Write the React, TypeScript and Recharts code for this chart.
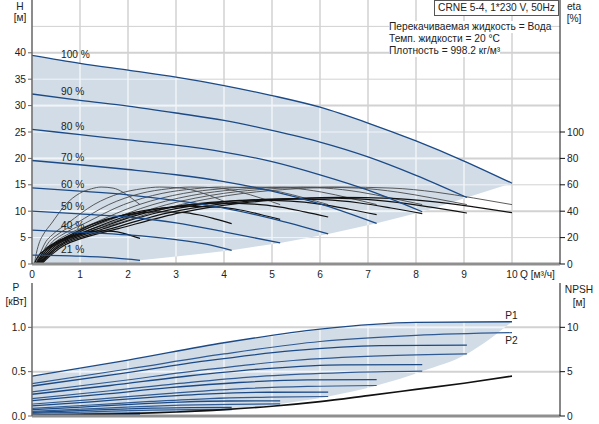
import React from "react";
import { Area, CartesianGrid, ComposedChart, Line, XAxis, YAxis } from "recharts";

// layout
const W = 599;
const TOP_H = 282;
const TOP_AXIS_H = 18;
const BOT_TOP = 283;
const BOT_H = 141;
const BOT_AXIS_H = 8;
const LEFT_W = 32;
const RIGHT_W = 39;
const Q_MAX = 11;

const FONT = '"Liberation Sans", Arial, sans-serif';
const FS = 10.2;
const SHADE = "#d1dce7";
const GRID = "#d2d2d2";
const GRID_IN = "#f2f5f8";
const CURVE = "#1b4a86";
const CURVE2 = "#2f5a93";

// axes
const qTicks = [0, 1, 2, 3, 4, 5, 6, 7, 8, 9, 10];
const qGrid = [1, 2, 3, 4, 5, 6, 7, 8, 9, 10];
const hTicks = [0, 5, 10, 15, 20, 25, 30, 35, 40];
const hGridThin = [5, 15, 25, 35, 45];
const hGridThick = [10, 20, 30, 40];
const etaTicks = [0, 20, 40, 60, 80, 100];
const pTicks = [0, 0.5, 1.0];
const npshTicks = [0, 5, 10];

// head curves, [Q m3/h, H m]
const h100 = [[0, 39.5], [1, 38.0], [2, 36.7], [3, 35.4], [4, 33.8], [5, 31.9], [6, 29.7], [7, 26.7], [8, 23.3], [9, 19.5], [10, 15.3]];
const h90 = [[0, 32.2], [1, 31.0], [2, 29.9], [3, 28.6], [4, 27.2], [5, 25.3], [6, 23.1], [7, 20.3], [8, 16.8], [9.06, 12.6]];
const h80 = [[0, 25.5], [1, 24.5], [2, 23.5], [3, 22.5], [4, 21.2], [5, 19.4], [6, 16.9], [7, 14.0], [8.13, 9.9]];
const h70 = [[0, 19.6], [1, 18.8], [2, 17.9], [3, 16.9], [4, 15.6], [5, 13.8], [6, 11.4], [7.18, 7.7]];
const h60 = [[0, 14.4], [1, 13.8], [2, 13.1], [3, 12.0], [4, 10.6], [5, 8.6], [6.17, 5.7]];
const h50 = [[0, 10.0], [1, 9.5], [2, 8.9], [3, 7.8], [4, 6.1], [5.17, 4.0]];
const h40 = [[0, 6.4], [1, 6.0], [2, 5.5], [3, 4.6], [3.6, 3.8], [4.16, 2.6]];
const h21 = [[0, 1.7], [1, 1.5], [1.7, 1.15], [2.25, 0.7]];
const headCurves = [h100, h90, h80, h70, h60, h50, h40, h21];

// operating range in the head chart, [Q, low H, high H]
const headRange = [[0, 0, 39.5], [1, 0, 38.0], [2, 0, 36.7], [2.25, 0, 36.4], [2.25, 0.7, 36.4], [3, 1.4, 35.4], [4.16, 2.6, 33.5], [5.17, 4.0, 31.6], [6.17, 5.7, 29.3], [7.18, 7.7, 26.2], [8.13, 9.9, 22.8], [9.06, 12.6, 19.3], [10, 15.3, 15.3]];

// efficiency curves, [Q, eta %]
const eA100 = [[0.2, 0], [0.4, 8], [0.7, 17], [1.0, 22], [1.8, 31], [3.1, 45], [4.4, 53.5], [5.5, 57], [6.4, 58.3], [7.5, 57.5], [8.4, 54.5], [9.2, 50], [10, 45]];
const eA90 = [[0.18, 0], [0.36, 8], [0.63, 17], [0.91, 22], [1.63, 31], [2.81, 45], [3.99, 53.5], [4.98, 57], [5.8, 58.3], [6.8, 57.5], [7.61, 54.5], [8.34, 50], [9.06, 45]];
const eA80 = [[0.16, 0], [0.33, 8], [0.57, 17], [0.81, 22], [1.46, 31], [2.52, 45], [3.58, 53.5], [4.47, 57], [5.2, 58.3], [6.1, 57.5], [6.83, 54.5], [7.48, 50], [8.13, 45]];
const eA70 = [[0.14, 0], [0.29, 8], [0.5, 17], [0.72, 22], [1.29, 31], [2.23, 45], [3.16, 53.5], [3.95, 57], [4.6, 58.3], [5.39, 57.5], [6.03, 54.5], [6.61, 50], [7.18, 45]];
const eA60 = [[0.12, 0], [0.25, 8], [0.43, 17], [0.62, 22], [1.11, 31], [1.91, 45], [2.71, 53.5], [3.39, 57], [3.95, 58.3], [4.63, 57.5], [5.18, 54.5], [5.68, 50], [6.17, 45]];
const eA50 = [[0.1, 0], [0.21, 8], [0.36, 17], [0.52, 22], [0.93, 31], [1.6, 45], [2.27, 53.5], [2.84, 57], [3.31, 58.3], [3.88, 57.5], [4.34, 54.5], [4.76, 50], [5.17, 45]];
const eA40 = [[0.08, 0], [0.17, 8], [0.29, 17], [0.42, 22], [0.75, 31], [1.29, 45], [1.83, 53.5], [2.29, 57], [2.66, 58.3], [3.12, 57.5], [3.49, 54.5], [3.83, 50], [4.16, 45]];
const eA21 = [[0.05, 0], [0.09, 8], [0.16, 17], [0.23, 22], [0.41, 31], [0.7, 45], [0.99, 53.5], [1.24, 57], [1.44, 58.3], [1.69, 57.5], [1.89, 54.5], [2.07, 50], [2.25, 45]];
const eB100 = [[0.2, 0], [0.4, 6.9], [0.7, 14.7], [1.0, 19.0], [1.8, 26.8], [3.1, 38.9], [4.4, 46.3], [5.5, 49.3], [6.4, 50.4], [7.5, 49.7], [8.4, 47.1], [9.2, 43.3], [10, 38.9]];
const eB90 = [[0.18, 0], [0.36, 6.9], [0.63, 14.6], [0.91, 18.9], [1.63, 26.6], [2.81, 38.6], [3.99, 45.8], [4.98, 48.8], [5.8, 50.0], [6.8, 49.3], [7.61, 46.7], [8.34, 42.9], [9.06, 38.6]];
const eB80 = [[0.16, 0], [0.33, 6.8], [0.57, 14.4], [0.81, 18.6], [1.46, 26.3], [2.52, 38.1], [3.58, 45.3], [4.47, 48.3], [5.2, 49.4], [6.1, 48.7], [6.83, 46.2], [7.48, 42.4], [8.13, 38.1]];
const eB70 = [[0.14, 0], [0.29, 6.6], [0.5, 14.1], [0.72, 18.3], [1.29, 25.7], [2.23, 37.4], [3.16, 44.4], [3.95, 47.3], [4.6, 48.4], [5.39, 47.7], [6.03, 45.2], [6.61, 41.5], [7.18, 37.4]];
const eB60 = [[0.12, 0], [0.25, 6.3], [0.43, 13.4], [0.62, 17.4], [1.11, 24.5], [1.91, 35.6], [2.71, 42.3], [3.39, 45.0], [3.95, 46.1], [4.63, 45.4], [5.18, 43.1], [5.68, 39.5], [6.17, 35.6]];
const eB50 = [[0.1, 0], [0.21, 6.0], [0.36, 12.8], [0.52, 16.5], [0.93, 23.3], [1.6, 33.8], [2.27, 40.1], [2.84, 42.8], [3.31, 43.7], [3.88, 43.1], [4.34, 40.9], [4.76, 37.5], [5.17, 33.8]];
const eB40 = [[0.08, 0], [0.17, 5.4], [0.29, 11.6], [0.42, 15.0], [0.75, 21.1], [1.29, 30.6], [1.83, 36.4], [2.29, 38.8], [2.66, 39.6], [3.12, 39.1], [3.49, 37.1], [3.83, 34.0], [4.16, 30.6]];
const eB21 = [[0.05, 0], [0.09, 3.4], [0.16, 7.3], [0.23, 9.5], [0.41, 13.3], [0.7, 19.4], [0.99, 23.0], [1.24, 24.5], [1.44, 25.1], [1.69, 24.7], [1.89, 23.4], [2.07, 21.5], [2.25, 19.4]];
const etaCurvesA = [eA100, eA90, eA80, eA70, eA60, eA50, eA40, eA21];
const etaCurvesB = [eB100, eB90, eB80, eB70, eB60, eB50, eB40, eB21];

// power curves, [Q, P kW]
const p1_100 = [[0, 0.449], [2, 0.63], [4, 0.826], [6, 0.98], [8, 1.056], [10, 1.063]];
const p1_90 = [[0, 0.338], [1.81, 0.474], [3.62, 0.621], [5.44, 0.737], [7.25, 0.794], [9.06, 0.8]];
const p1_80 = [[0, 0.245], [1.63, 0.344], [3.25, 0.451], [4.88, 0.535], [6.5, 0.577], [8.13, 0.58]];
const p1_70 = [[0, 0.173], [1.44, 0.243], [2.87, 0.319], [4.31, 0.378], [5.74, 0.408], [7.18, 0.41]];
const p1_60 = [[0, 0.114], [1.23, 0.16], [2.47, 0.21], [3.7, 0.249], [4.94, 0.268], [6.17, 0.27]];
const p1_50 = [[0, 0.072], [1.03, 0.101], [2.07, 0.132], [3.1, 0.157], [4.14, 0.169], [5.17, 0.17]];
const p1_40 = [[0, 0.04], [0.83, 0.057], [1.66, 0.074], [2.5, 0.088], [3.33, 0.095], [4.16, 0.096]];
const p1_21 = [[0, 0.013], [0.45, 0.019], [0.9, 0.025], [1.35, 0.029], [1.8, 0.032], [2.25, 0.032]];
const p2_100 = [[0, 0.366], [2, 0.53], [4, 0.7], [6, 0.84], [8, 0.91], [10, 0.94]];
const p2_90 = [[0, 0.273], [1.81, 0.395], [3.62, 0.522], [5.44, 0.626], [7.25, 0.678], [9.06, 0.7]];
const p2_80 = [[0, 0.197], [1.63, 0.285], [3.25, 0.377], [4.88, 0.452], [6.5, 0.49], [8.13, 0.506]];
const p2_70 = [[0, 0.134], [1.44, 0.194], [2.87, 0.256], [4.31, 0.307], [5.74, 0.333], [7.18, 0.344]];
const p2_60 = [[0, 0.086], [1.23, 0.124], [2.47, 0.164], [3.7, 0.197], [4.94, 0.213], [6.17, 0.22]];
const p2_50 = [[0, 0.053], [1.03, 0.077], [2.07, 0.102], [3.1, 0.122], [4.14, 0.132], [5.17, 0.136]];
const p2_40 = [[0, 0.029], [0.83, 0.041], [1.66, 0.055], [2.5, 0.066], [3.33, 0.071], [4.16, 0.073]];
const p2_21 = [[0, 0.007], [0.45, 0.011], [0.9, 0.014], [1.35, 0.017], [1.8, 0.018], [2.25, 0.019]];
const p1Curves = [p1_100, p1_90, p1_80, p1_70, p1_60, p1_50, p1_40, p1_21];
const p2Curves = [p2_100, p2_90, p2_80, p2_70, p2_60, p2_50, p2_40, p2_21];

// operating range in the power chart, [Q, low P, high P]
const powerRange = [[0, 0, 0.449], [2.25, 0.02, 0.655], [4.16, 0.073, 0.84], [5.17, 0.136, 0.91], [6.17, 0.22, 0.985], [7.18, 0.344, 1.03], [8.13, 0.506, 1.057], [9.06, 0.7, 1.063], [10, 1.063, 1.063]];

// NPSH, [Q, m]
const npsh = [[0, 0.05], [1, 0.12], [2, 0.27], [3, 0.45], [4, 0.72], [5, 1.1], [6, 1.62], [7, 2.3], [8, 3.0], [9, 3.7], [10, 4.5]];

const speedLabels = [
  { text: "100 %", y: 55 },
  { text: "90 %", y: 91.5 },
  { text: "80 %", y: 126.5 },
  { text: "70 %", y: 157.5 },
  { text: "60 %", y: 184.5 },
  { text: "50 %", y: 206.5 },
  { text: "40 %", y: 226 },
  { text: "21 %", y: 249.5 },
];

const toPts = (rows: number[][]) => rows.map(([q, v]) => ({ q, v }));
const toRange = (rows: number[][]) => rows.map(([q, lo, hi]) => ({ q, range: [lo, hi] }));

const tick = { fontSize: FS, fill: "#222" };

function Txt({ x, y, children, anchor = "left", bg }: { x: number; y: number; children: React.ReactNode; anchor?: "left" | "center"; bg?: string }) {
  return (
    <div
      style={{
        position: "absolute",
        left: x,
        top: y,
        transform: anchor === "center" ? "translate(-50%, -50%)" : "translate(0, -50%)",
        fontSize: FS,
        lineHeight: "12px",
        whiteSpace: "nowrap",
        color: "#222",
        background: bg,
      }}
    >
      {children}
    </div>
  );
}

export default function App() {
  const plotW = W - LEFT_W - RIGHT_W;
  const tileW = plotW / Q_MAX;
  const topTileH = ((TOP_H - TOP_AXIS_H) / 50) * 10;
  const botTileH = (BOT_H - BOT_AXIS_H) / 3;

  return (
    <div style={{ position: "absolute", left: 0, top: 0, width: W, height: 424, background: "#fff", fontFamily: FONT, overflow: "hidden" }}>
      <svg width={0} height={0} style={{ position: "absolute" }}>
        <defs>
          <pattern id="shadeTop" patternUnits="userSpaceOnUse" x={LEFT_W} y={0} width={tileW} height={topTileH}>
            <rect width={tileW} height={topTileH} fill={SHADE} />
            <rect x={0} width={0.75} height={topTileH} fill={GRID_IN} />
            <rect x={tileW - 0.75} width={0.75} height={topTileH} fill={GRID_IN} />
            <rect y={0} width={tileW} height={1} fill={GRID_IN} />
            <rect y={topTileH - 1} width={tileW} height={1} fill={GRID_IN} />
            <rect y={topTileH / 2 - 0.5} width={tileW} height={1} fill={GRID_IN} />
          </pattern>
          <pattern id="shadeBot" patternUnits="userSpaceOnUse" x={LEFT_W} y={0} width={tileW} height={botTileH}>
            <rect width={tileW} height={botTileH} fill={SHADE} />
            <rect x={0} width={0.75} height={botTileH} fill={GRID_IN} />
            <rect x={tileW - 0.75} width={0.75} height={botTileH} fill={GRID_IN} />
            <rect y={0} width={tileW} height={1} fill={GRID_IN} />
            <rect y={botTileH - 1} width={tileW} height={1} fill={GRID_IN} />
          </pattern>
        </defs>
      </svg>

      <div style={{ position: "absolute", left: 0, top: 0 }}>
        <ComposedChart width={W} height={TOP_H} margin={{ top: 0, right: 0, bottom: 0, left: 0 }}>
          <CartesianGrid stroke={GRID} strokeWidth={1.5} horizontal={false} verticalValues={qGrid} />
          <CartesianGrid stroke={GRID} strokeWidth={1} vertical={false} horizontalValues={hGridThin} />
          <CartesianGrid stroke={GRID} strokeWidth={2} vertical={false} horizontalValues={hGridThick} />
          <XAxis
            type="number"
            dataKey="q"
            domain={[0, Q_MAX]}
            ticks={qTicks}
            height={TOP_AXIS_H}
            tick={tick}
            tickLine={false}
            tickSize={5}
            tickMargin={2}
            axisLine={{ stroke: "#8f8f8f", strokeWidth: 3 }}
            allowDataOverflow
          />
          <YAxis
            domain={[0, 50]}
            ticks={hTicks}
            width={LEFT_W}
            tick={tick}
            tickSize={4}
            tickMargin={2}
            tickLine={{ stroke: "#666" }}
            axisLine={{ stroke: "#666", strokeWidth: 1.5 }}
            allowDataOverflow
          />
          <YAxis
            yAxisId="eta"
            orientation="right"
            domain={[0, 200]}
            ticks={etaTicks}
            width={RIGHT_W}
            tick={tick}
            tickSize={5}
            tickMargin={2}
            tickLine={{ stroke: "#111" }}
            axisLine={{ stroke: "#111" }}
            allowDataOverflow
          />
          <Area data={toRange(headRange)} dataKey="range" type="linear" stroke="none" fill="url(#shadeTop)" fillOpacity={1} dot={false} activeDot={false} isAnimationActive={false} />
          {etaCurvesA.map((c, i) => (
            <Line key={"ea" + i} yAxisId="eta" data={toPts(c)} dataKey="v" type="monotone" dot={false} stroke="#4a4a4a" strokeWidth={0.9} isAnimationActive={false} />
          ))}
          {etaCurvesB.map((c, i) => (
            <Line key={"eb" + i} yAxisId="eta" data={toPts(c)} dataKey="v" type="monotone" dot={false} stroke="#111" strokeWidth={1.2} isAnimationActive={false} />
          ))}
          {headCurves.map((c, i) => (
            <Line key={"h" + i} data={toPts(c)} dataKey="v" type="monotone" dot={false} stroke={CURVE} strokeWidth={1.3} isAnimationActive={false} />
          ))}
        </ComposedChart>
      </div>

      <div style={{ position: "absolute", left: 0, top: BOT_TOP }}>
        <ComposedChart width={W} height={BOT_H} margin={{ top: 0, right: 0, bottom: 0, left: 0 }}>
          <CartesianGrid stroke={GRID} strokeWidth={1.5} horizontal={false} verticalValues={qGrid} />
          <CartesianGrid stroke={GRID} strokeWidth={2} vertical={false} horizontalValues={[0.5, 1.0]} />
          <XAxis
            type="number"
            dataKey="q"
            domain={[0, Q_MAX]}
            ticks={qTicks}
            height={BOT_AXIS_H}
            tick={false}
            tickLine={false}
            axisLine={{ stroke: "#8f8f8f", strokeWidth: 3 }}
            allowDataOverflow
          />
          <YAxis
            domain={[0, 1.5]}
            ticks={pTicks}
            width={LEFT_W}
            tick={tick}
            tickSize={4}
            tickMargin={2}
            tickFormatter={(v: number) => v.toFixed(1)}
            tickLine={{ stroke: "#666" }}
            axisLine={{ stroke: "#666", strokeWidth: 1.5 }}
            allowDataOverflow
          />
          <YAxis
            yAxisId="npsh"
            orientation="right"
            domain={[0, 15]}
            ticks={npshTicks}
            width={RIGHT_W}
            tick={tick}
            tickSize={5}
            tickMargin={2}
            tickLine={{ stroke: "#111" }}
            axisLine={{ stroke: "#111" }}
            allowDataOverflow
          />
          <Area data={toRange(powerRange)} dataKey="range" type="monotone" stroke="none" fill="url(#shadeBot)" fillOpacity={1} dot={false} activeDot={false} isAnimationActive={false} />
          {p2Curves.map((c, i) => (
            <Line key={"p2" + i} data={toPts(c)} dataKey="v" type="monotone" dot={false} stroke={CURVE2} strokeWidth={1.2} isAnimationActive={false} />
          ))}
          {p1Curves.map((c, i) => (
            <Line key={"p1" + i} data={toPts(c)} dataKey="v" type="monotone" dot={false} stroke={CURVE} strokeWidth={1.3} isAnimationActive={false} />
          ))}
          <Line yAxisId="npsh" data={toPts(npsh)} dataKey="v" type="monotone" dot={false} stroke="#111" strokeWidth={1.6} isAnimationActive={false} />
        </ComposedChart>
      </div>

      {/* axis titles */}
      <Txt x={20} y={7} anchor="center">H</Txt>
      <Txt x={20} y={18} anchor="center">[м]</Txt>
      <Txt x={574} y={7} anchor="center">eta</Txt>
      <Txt x={574} y={19} anchor="center">[%]</Txt>
      <Txt x={520} y={275}>Q [м³/ч]</Txt>
      <Txt x={16} y={288} anchor="center">P</Txt>
      <Txt x={16} y={302} anchor="center">[кВт]</Txt>
      <Txt x={579} y={289.5} anchor="center">NPSH</Txt>
      <Txt x={579} y={302.5} anchor="center">[м]</Txt>
      <Txt x={511.5} y={315.5} anchor="center">P1</Txt>
      <Txt x={511.5} y={340.5} anchor="center">P2</Txt>

      {/* pump info */}
      <div
        style={{
          position: "absolute",
          left: 434,
          top: 0,
          width: 125,
          height: 16,
          boxSizing: "border-box",
          border: "1px solid #555",
          background: "#fff",
          fontSize: FS,
          lineHeight: "14px",
          textAlign: "center",
          whiteSpace: "nowrap",
          color: "#222",
        }}
      >
        CRNE 5-4, 1*230 V, 50Hz
      </div>
      <Txt x={389} y={27} bg="#fff">Перекачиваемая жидкость = Вода</Txt>
      <Txt x={389} y={39} bg="#fff">Темп. жидкости = 20 °C</Txt>
      <Txt x={389} y={51} bg="#fff">Плотность = 998.2 кг/м³</Txt>

      {speedLabels.map((s) => (
        <Txt key={s.text} x={61} y={s.y}>{s.text}</Txt>
      ))}
    </div>
  );
}
